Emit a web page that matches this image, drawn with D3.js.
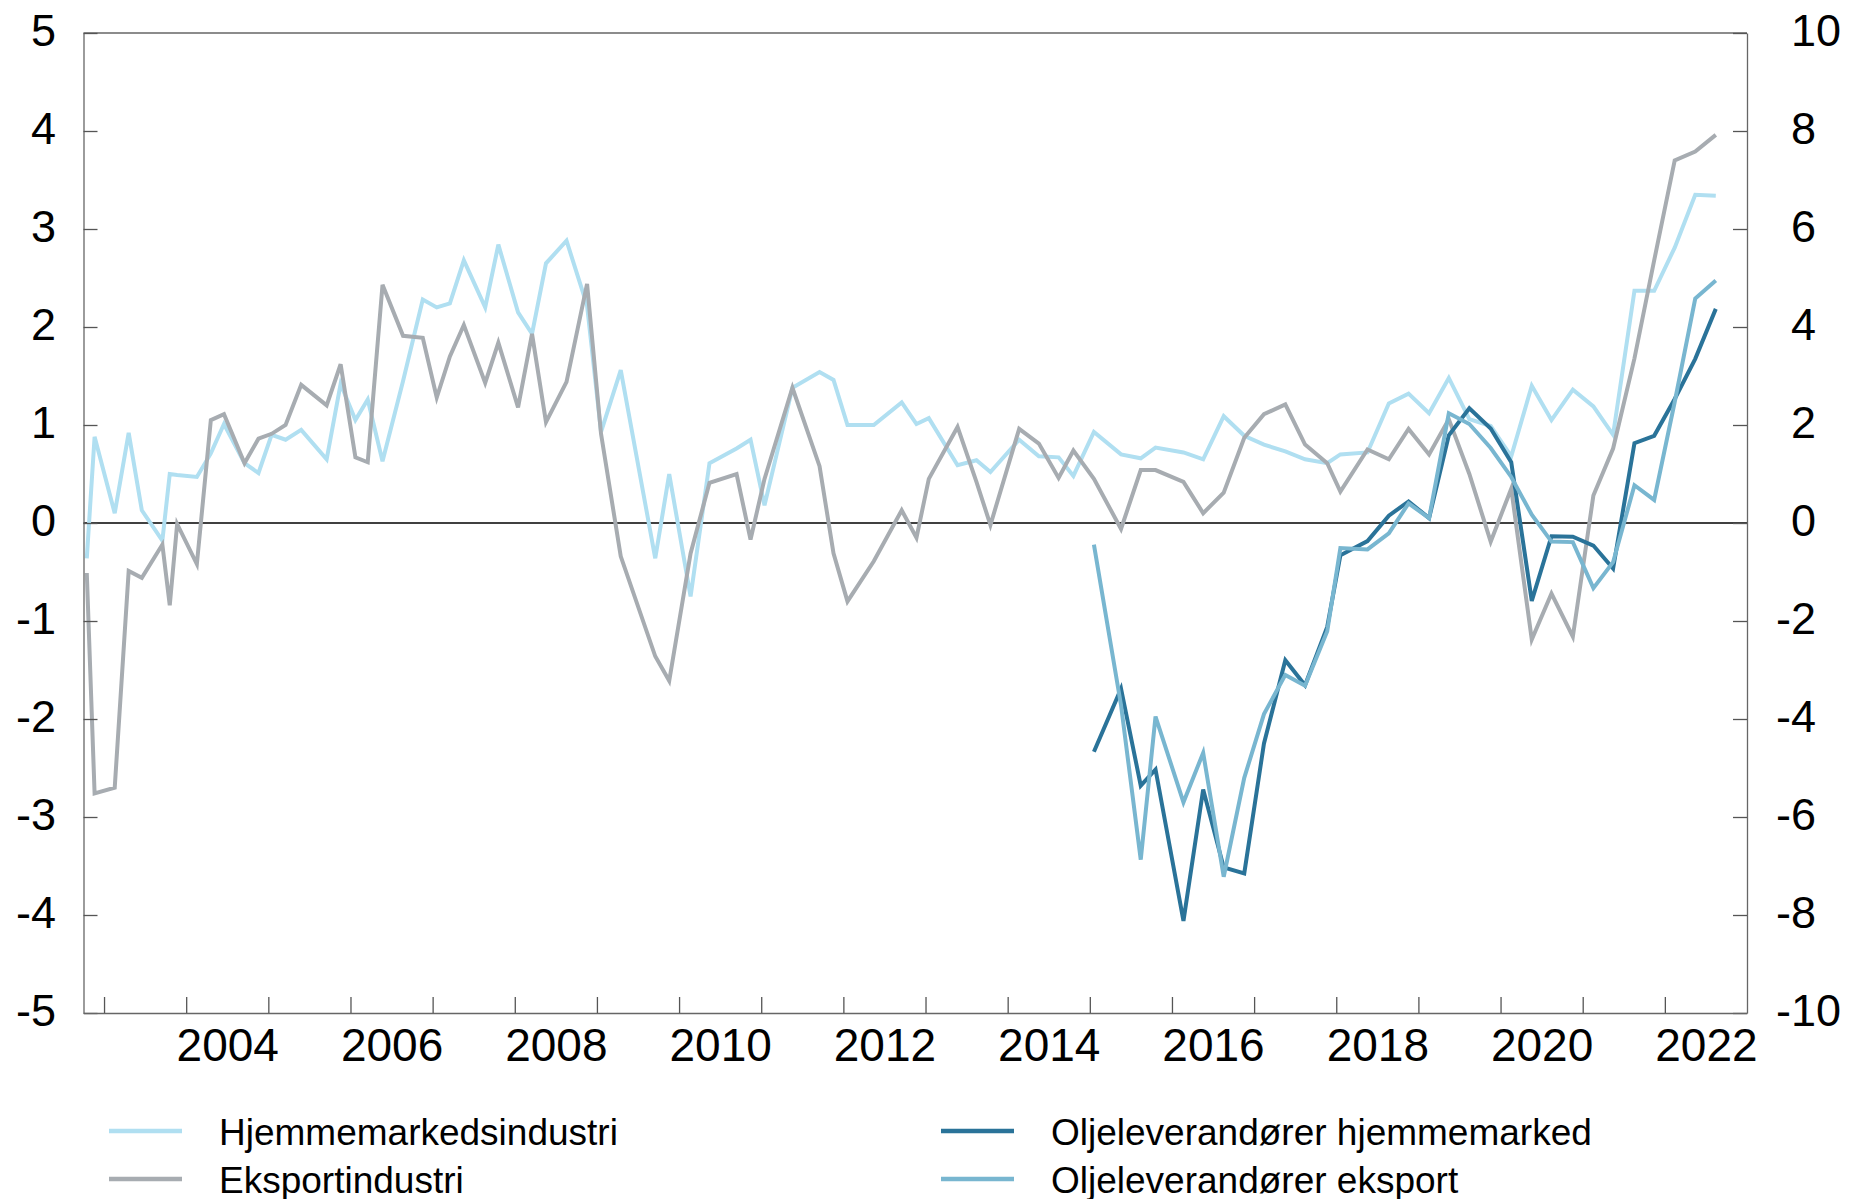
<!DOCTYPE html>
<html>
<head>
<meta charset="utf-8">
<script src="https://cdn.jsdelivr.net/npm/d3@7"></script>
<style>
  body { margin: 0; background: #fff; }
  text { font-family: "Liberation Sans", Arial, Helvetica, sans-serif; fill: #000; }
</style>
</head>
<body>
<div class="chart"></div>
<script>

// survey dates (decimal years) for the two industry series
var dates = [
  2002.79, 2002.885, 2003.13, 2003.30, 2003.46, 2003.71, 2003.80, 2003.89, 2004.13, 2004.30,
  2004.46, 2004.71, 2004.88, 2005.04, 2005.21, 2005.40, 2005.71, 2005.88, 2006.06, 2006.21,
  2006.39, 2006.64, 2006.88, 2007.05, 2007.21, 2007.38, 2007.64, 2007.80, 2008.04, 2008.21,
  2008.38, 2008.63, 2008.88, 2009.05, 2009.29, 2009.71, 2009.88, 2010.14, 2010.37, 2010.70,
  2010.87, 2011.04, 2011.38, 2011.71, 2011.88, 2012.05, 2012.37, 2012.71, 2012.89, 2013.04,
  2013.39, 2013.62, 2013.79, 2014.14, 2014.38, 2014.62, 2014.80, 2015.05, 2015.38, 2015.62,
  2015.80, 2016.14, 2016.38, 2016.63, 2016.88, 2017.12, 2017.38, 2017.62, 2017.89, 2018.05,
  2018.38, 2018.64, 2018.88, 2019.13, 2019.37, 2019.62, 2019.88, 2020.13, 2020.38, 2020.62,
  2020.88, 2021.13, 2021.37, 2021.63, 2021.87, 2022.12, 2022.37, 2022.62
];

// left axis
var hjemme = [
  -0.36, 0.88, 0.10, 0.92, 0.13, -0.18, 0.50, 0.49, 0.47, 0.71,
  1.01, 0.61, 0.51, 0.90, 0.85, 0.95, 0.65, 1.42, 1.05, 1.26,
  0.63, 1.45, 2.28, 2.20, 2.24, 2.68, 2.20, 2.84, 2.15, 1.93,
  2.65, 2.88, 2.22, 0.93, 1.56, -0.36, 0.50, -0.75, 0.61, 0.76,
  0.85, 0.18, 1.38, 1.54, 1.46, 1.00, 1.00, 1.23, 1.01, 1.07,
  0.59, 0.64, 0.52, 0.85, 0.68, 0.67, 0.48, 0.93, 0.70, 0.66,
  0.77, 0.72, 0.65, 1.09, 0.89, 0.80, 0.73, 0.65, 0.61, 0.70,
  0.72, 1.22, 1.32, 1.12, 1.48, 1.06, 0.99, 0.68, 1.40, 1.05,
  1.36, 1.19, 0.90, 2.37, 2.37, 2.81, 3.35, 3.34
];

var eksport = [
  -0.51, -2.76, -2.70, -0.49, -0.56, -0.22, -0.84, -0.01, -0.42, 1.05,
  1.11, 0.61, 0.86, 0.91, 1.00, 1.41, 1.20, 1.62, 0.67, 0.62,
  2.43, 1.91, 1.89, 1.28, 1.70, 2.02, 1.43, 1.84, 1.18, 1.93,
  1.03, 1.44, 2.44, 0.91, -0.34, -1.36, -1.61, -0.31, 0.41, 0.50,
  -0.17, 0.45, 1.38, 0.58, -0.31, -0.80, -0.39, 0.13, -0.15, 0.45,
  0.98, 0.42, -0.02, 0.96, 0.81, 0.46, 0.74, 0.45, -0.06, 0.54,
  0.54, 0.42, 0.10, 0.31, 0.87, 1.11, 1.21, 0.80, 0.61, 0.32,
  0.75, 0.65, 0.96, 0.70, 1.06, 0.50, -0.19, 0.35, -1.19, -0.72,
  -1.16, 0.28, 0.76, 1.68, 2.68, 3.70, 3.79, 3.96
];

// oil suppliers, right axis
var oilDates = [
  2015.05, 2015.38, 2015.62, 2015.80, 2016.14, 2016.38, 2016.63, 2016.88, 2017.12, 2017.38,
  2017.62, 2017.89, 2018.05, 2018.38, 2018.64, 2018.88, 2019.13, 2019.37, 2019.62, 2019.88,
  2020.13, 2020.38, 2020.62, 2020.88, 2021.13, 2021.37, 2021.63, 2021.87, 2022.12, 2022.37,
  2022.62
];

var oljeHjemme = [
  -4.67, -3.38, -5.36, -5.03, -8.12, -5.44, -7.03, -7.15, -4.50, -2.80,
  -3.31, -2.12, -0.66, -0.37, 0.15, 0.44, 0.10, 1.79, 2.34, 1.93,
  1.24, -1.59, -0.27, -0.28, -0.46, -0.93, 1.63, 1.78, 2.53, 3.35,
  4.37
];

var oljeEksport = [
  -0.44, -3.72, -6.87, -3.95, -5.70, -4.69, -7.22, -5.20, -3.90, -3.10,
  -3.32, -2.21, -0.51, -0.54, -0.21, 0.40, 0.10, 2.24, 2.02, 1.53,
  0.94, 0.17, -0.38, -0.39, -1.33, -0.80, 0.77, 0.47, 2.47, 4.58,
  4.95
];

var leftTicks = [-5, -4, -3, -2, -1, 0, 1, 2, 3, 4, 5];
var rightTicks = [-10, -8, -6, -4, -2, 0, 2, 4, 6, 8, 10];
var yearTicks = d3.range(2003, 2023);
var labelYears = [2004, 2006, 2008, 2010, 2012, 2014, 2016, 2018, 2020, 2022];

var names = ["Hjemmemarkedsindustri", "Eksportindustri", "Oljeleverandører hjemmemarked", "Oljeleverandører eksport"];
var colors = ["#b0dff1", "#a7acb1", "#2a7399", "#78b6d0"];

function wrapper() {

var W = 1863, H = 1199;
var pLeft = 83.5, pRight = 1747, pTop = 33, pBottom = 1013;

var svg = d3.select("div.chart")
            .append("svg")
            .attr("width", W)
            .attr("height", H);

var x = d3.scaleLinear().domain([2002.75, 2023]).range([pLeft, pRight]);
var y = d3.scaleLinear().domain([-5, 5]).range([pBottom, pTop]);
var y2 = d3.scaleLinear().domain([-10, 10]).range([pBottom, pTop]);

// zero line
svg.append("line")
   .attr("x1", pLeft).attr("x2", pRight)
   .attr("y1", y(0)).attr("y2", y(0))
   .attr("stroke", "#000")
   .attr("stroke-width", 1.3);

// series
function drawLine(xs, vs, scale, color) {
  var pts = xs.map(function(d, i) { return [d, vs[i]]; });
  var line = d3.line()
               .x(function(d) { return x(d[0]); })
               .y(function(d) { return scale(d[1]); });
  svg.append("path")
     .datum(pts)
     .attr("d", line)
     .attr("fill", "none")
     .attr("stroke", color)
     .attr("stroke-width", 4)
     .attr("stroke-linejoin", "miter");
}

drawLine(dates, hjemme, y, colors[0]);
drawLine(dates, eksport, y, colors[1]);
drawLine(oilDates, oljeHjemme, y2, colors[2]);
drawLine(oilDates, oljeEksport, y2, colors[3]);

// top frame line
svg.append("line")
   .attr("x1", pLeft).attr("x2", pRight)
   .attr("y1", pTop).attr("y2", pTop)
   .attr("stroke", "#666")
   .attr("stroke-width", 1.3);

// left axis
var gl = svg.append("g")
   .attr("transform", "translate(" + pLeft + ",0)")
   .call(d3.axisLeft(y).tickValues(leftTicks).tickSize(-14).tickSizeOuter(0)
           .tickPadding(27.5).tickFormat(function(d) { return String(d); }));

// right axis
var gr = svg.append("g")
   .attr("transform", "translate(" + pRight + ",0)")
   .call(d3.axisRight(y2).tickValues(rightTicks).tickSize(-14).tickSizeOuter(0)
           .tickPadding(44).tickFormat(function(d) { return String(d); }));
gr.selectAll("text").attr("x", function(d) { return d < 0 ? 29 : 44; });

[gl, gr].forEach(function(g) {
  g.selectAll("text").style("font-size", "45px").attr("dy", "0.28em");
});

// bottom axis, ticks at year starts
var gb = svg.append("g")
   .attr("transform", "translate(0," + pBottom + ")")
   .call(d3.axisBottom(x).tickValues(yearTicks).tickSize(-16).tickSizeOuter(0).tickFormat(""));

// year labels centred in the year
var gbl = svg.append("g")
   .attr("transform", "translate(0," + pBottom + ")")
   .call(d3.axisBottom(x).tickValues(labelYears.map(function(d) { return d + 0.5; }))
           .tickSize(0).tickPadding(15).tickFormat(function(d) { return Math.floor(d); }));
gbl.select(".domain").remove();
gbl.selectAll("text").style("font-size", "46px");

[gl, gr, gb, gbl].forEach(function(g) {
  g.attr("font-family", null).attr("font-size", null);
  g.selectAll(".domain").attr("stroke", "#666").attr("stroke-width", 1.3);
  g.selectAll(".tick line").attr("stroke", "#555").attr("stroke-width", 1.3);
});

// legend
var legendPos = [[109, 1131], [109, 1179], [941, 1131], [941, 1179]];
var legend = svg.append("g");
names.forEach(function(n, i) {
  var p = legendPos[i];
  legend.append("line")
        .attr("x1", p[0]).attr("x2", p[0] + 73)
        .attr("y1", p[1]).attr("y2", p[1])
        .attr("stroke", colors[i])
        .attr("stroke-width", 4.5);
  legend.append("text")
        .attr("x", p[0] + 110)
        .attr("y", p[1] + 14)
        .style("font-size", "37px")
        .text(n);
});

}
wrapper();

</script>
</body>
</html>
